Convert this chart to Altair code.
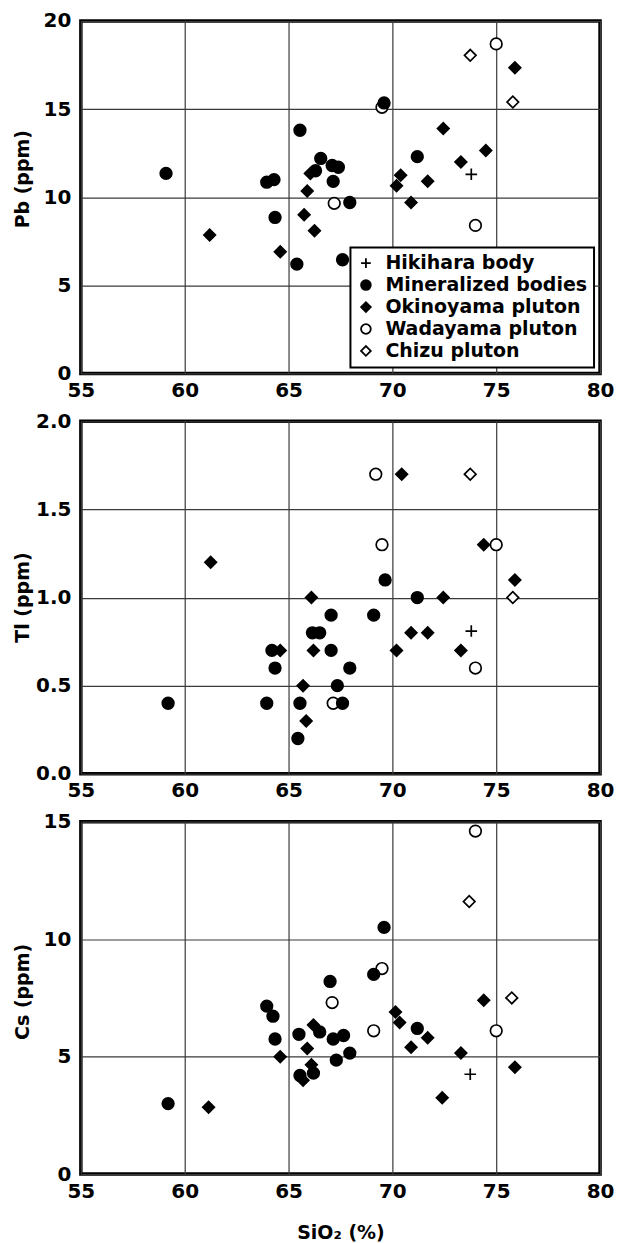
import altair as alt
import pandas as pd

GROUPS = ["Hikihara body", "Mineralized bodies", "Okinoyama pluton", "Wadayama pluton", "Chizu pluton"]
SHAPES = ["M-1,0L1,0M0,-1L0,1", "circle", "diamond", "circle", "diamond"]
FILLS = ["transparent", "black", "black", "white", "white"]
STROKES = ["black", "black", "black", "black", "black"]
DRAW_ORDER = ["Hikihara body", "Wadayama pluton", "Chizu pluton", "Mineralized bodies", "Okinoyama pluton"]

X_TICKS = [55, 60, 65, 70, 75, 80]

# ---- Pb (ppm) vs SiO2 ----
PB_HIKIHARA = [(73.8, 11.3)]
PB_MINERALIZED = [(59.1, 11.35), (63.95, 10.85), (64.3, 11.0), (64.35, 8.85), (65.4, 6.2),
                  (65.55, 13.8), (66.3, 11.5), (66.55, 12.2), (67.1, 11.8), (67.4, 11.7),
                  (67.15, 10.9), (67.95, 9.7), (67.6, 6.45), (69.6, 15.35), (71.2, 12.3)]
PB_OKINOYAMA = [(61.2, 7.85), (64.6, 6.9), (65.75, 9.0), (65.9, 10.35), (66.05, 11.35),
                (66.25, 8.1), (70.2, 10.65), (70.4, 11.25), (70.9, 9.7), (71.7, 10.9),
                (72.45, 13.9), (73.3, 12.0), (74.5, 12.65), (75.9, 17.35)]
PB_WADAYAMA = [(67.2, 9.65), (69.5, 15.1), (74.0, 8.4), (75.0, 18.7)]
PB_CHIZU = [(73.75, 18.05), (75.8, 15.4)]
PB_TICKS = [0, 5, 10, 15, 20]

# ---- Tl (ppm) vs SiO2 ----
TL_HIKIHARA = [(73.8, 0.81)]
TL_MINERALIZED = [(59.2, 0.4), (63.95, 0.4), (64.2, 0.7), (64.35, 0.6), (65.45, 0.2),
                  (65.55, 0.4), (66.15, 0.8), (66.5, 0.8), (67.05, 0.9), (67.05, 0.7),
                  (67.35, 0.5), (67.6, 0.4), (67.95, 0.6), (69.1, 0.9), (69.65, 1.1), (71.2, 1.0)]
TL_OKINOYAMA = [(61.25, 1.2), (64.6, 0.7), (65.7, 0.5), (65.85, 0.3), (66.1, 1.0),
                (66.2, 0.7), (70.2, 0.7), (70.45, 1.7), (70.9, 0.8), (71.7, 0.8),
                (72.45, 1.0), (73.3, 0.7), (74.4, 1.3), (75.9, 1.1)]
TL_WADAYAMA = [(67.15, 0.4), (69.2, 1.7), (69.5, 1.3), (74.0, 0.6), (75.0, 1.3)]
TL_CHIZU = [(73.75, 1.7), (75.8, 1.0)]
TL_TICKS = [0.0, 0.5, 1.0, 1.5, 2.0]

# ---- Cs (ppm) vs SiO2 ----
CS_HIKIHARA = [(73.75, 4.25)]
CS_MINERALIZED = [(59.2, 3.0), (63.95, 7.15), (64.25, 6.72), (64.35, 5.75), (65.5, 5.95),
                  (65.55, 4.2), (66.2, 4.3), (66.5, 6.05), (67.0, 8.2), (67.15, 5.75),
                  (67.65, 5.9), (67.3, 4.85), (67.95, 5.15), (69.1, 8.5), (69.6, 10.5), (71.2, 6.2)]
CS_OKINOYAMA = [(61.15, 2.85), (64.6, 5.0), (65.7, 4.0), (65.9, 5.35), (66.1, 4.65),
                (66.2, 6.35), (70.15, 6.9), (70.35, 6.45), (70.9, 5.4), (71.7, 5.8),
                (72.4, 3.25), (73.3, 5.15), (74.4, 7.4), (75.9, 4.55)]
CS_WADAYAMA = [(67.1, 7.3), (69.1, 6.1), (69.5, 8.75), (74.0, 14.6), (75.0, 6.1)]
CS_CHIZU = [(73.7, 11.6), (75.75, 7.5)]
CS_TICKS = [0, 5, 10, 15]

FONT = "DejaVu Sans"


def make_df(sets):
    rows = []
    for g in DRAW_ORDER:
        for x, y in sets[g]:
            rows.append({"group": g, "sio2": x, "val": y})
    return pd.DataFrame(rows)


def panel(df, ytitle, ydomain, yticks, yfmt, legend, xtitle, title_y):
    xaxis_kw = dict(values=X_TICKS, grid=True, labelPadding=7, format="d", labelFlush=False)
    if xtitle:
        xaxis_kw.update(title="SiO\u2082 (%)", titlePadding=22)
    else:
        xaxis_kw.update(title=None)
    yaxis = alt.Axis(values=yticks, format=yfmt, grid=True, labelPadding=10, labelFlush=False,
                     title=ytitle, titlePadding=3, minExtent=45, maxExtent=45,
                     titleY=title_y)
    if legend:
        leg = alt.Legend(orient="bottom-right", offset=6, title=None,
                         labelFont=FONT, labelFontWeight="bold", labelFontSize=19,
                         labelColor="black", symbolSize=95, symbolStrokeColor="black",
                         symbolStrokeWidth=1.8, strokeColor="black", fillColor="white",
                         padding=6, rowPadding=2, labelOffset=10, labelLimit=400)
        kw = dict(legend=leg)
    else:
        kw = dict(legend=None)
    return alt.Chart(df).mark_point(
        strokeWidth=1.7, size=135, opacity=1, fillOpacity=1, strokeOpacity=1
    ).encode(
        x=alt.X("sio2:Q", scale=alt.Scale(domain=[55, 80], nice=False, zero=False),
                axis=alt.Axis(**xaxis_kw)),
        y=alt.Y("val:Q", scale=alt.Scale(domain=ydomain, nice=False), axis=yaxis),
        shape=alt.Shape("group:N", scale=alt.Scale(domain=GROUPS, range=SHAPES), **kw),
        fill=alt.Fill("group:N", scale=alt.Scale(domain=GROUPS, range=FILLS), **kw),
        stroke=alt.Stroke("group:N", scale=alt.Scale(domain=GROUPS, range=STROKES), **kw),
    ).properties(width=520, height=353)


pb = make_df({"Hikihara body": PB_HIKIHARA, "Mineralized bodies": PB_MINERALIZED,
              "Okinoyama pluton": PB_OKINOYAMA, "Wadayama pluton": PB_WADAYAMA,
              "Chizu pluton": PB_CHIZU})
tl = make_df({"Hikihara body": TL_HIKIHARA, "Mineralized bodies": TL_MINERALIZED,
              "Okinoyama pluton": TL_OKINOYAMA, "Wadayama pluton": TL_WADAYAMA,
              "Chizu pluton": TL_CHIZU})
cs = make_df({"Hikihara body": CS_HIKIHARA, "Mineralized bodies": CS_MINERALIZED,
              "Okinoyama pluton": CS_OKINOYAMA, "Wadayama pluton": CS_WADAYAMA,
              "Chizu pluton": CS_CHIZU})

p1 = panel(pb, "Pb (ppm)", [0, 20], PB_TICKS, "d", True, False, 158)
p2 = panel(tl, "Tl (ppm)", [0, 2], TL_TICKS, ".1f", False, False, 176)
p3 = panel(cs, "Cs (ppm)", [0, 15], CS_TICKS, "d", False, True, 170)

chart = alt.vconcat(p1, p2, p3, spacing=7).resolve_legend(
    shape="independent", fill="independent", stroke="independent"
).properties(
    padding={"left": 4, "top": 0, "right": 5, "bottom": 0},
    background="white",
).configure_view(
    stroke="black", strokeWidth=3.5
).configure_axis(
    labelFont=FONT, labelFontWeight="bold", labelFontSize=20, labelColor="black",
    titleFont=FONT, titleFontWeight="bold", titleFontSize=19, titleColor="black",
    gridColor="#3a3a3a", gridWidth=1.2, gridOpacity=1, domain=False, ticks=False,
).configure_legend(
    strokeWidth=2
)

chart.save("out.html", embed_options={"renderer": "svg", "actions": False})
